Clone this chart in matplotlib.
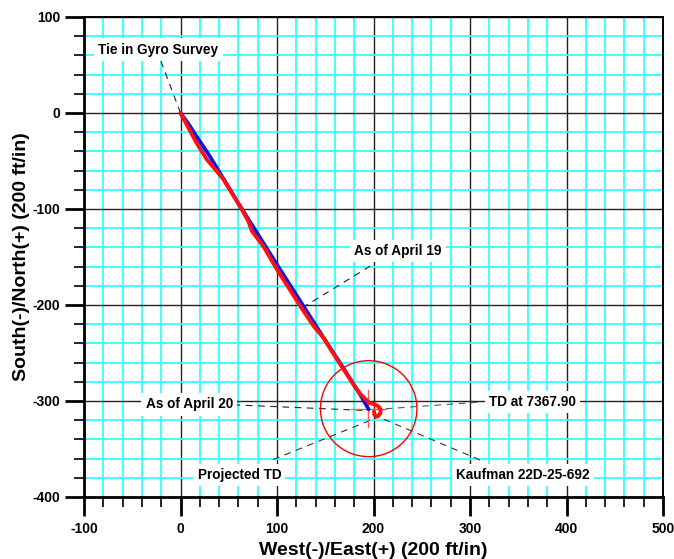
import matplotlib.pyplot as plt
from matplotlib.patches import Circle
from matplotlib.ticker import MultipleLocator

plt.rcParams['font.family'] = ['Liberation Sans', 'DejaVu Sans']
plt.rcParams['font.weight'] = 'bold'
plt.rcParams['axes.unicode_minus'] = False

# survey paths (East, North) in ft
plan_e = [0, 8, 16.8, 30.6, 41, 62, 80, 100, 127.5, 148.3, 169, 186, 195]
plan_n = [0, -11, -24.6, -45.4, -62.7, -97.4, -126, -158, -201.3, -234.2, -266, -293, -308.7]

actual_e = [0, 8, 16.8, 27, 35.8, 44.4, 54.8, 61.8, 70.4, 74, 86, 100, 124, 138, 148, 158, 169,
            180, 186.4, 191.6, 196, 201, 205, 207.5, 207, 204, 201, 200.5]
actual_n = [0, -15, -31.5, -48, -58.5, -69, -86, -97.4, -113, -123, -139, -163, -201, -222, -234,
            -250, -267, -284, -293, -298, -302, -303.5, -305.5, -309, -313, -316, -314.5, -311]

# target circle and projected TD
target_e, target_n, target_r = 195, -308, 50
proj_e, proj_n = 194.5, -308

# annotations: text, text position, leader start, leader end
ann_text = ['Tie in Gyro Survey', 'As of April 19', 'As of April 20', 'TD at 7367.90',
            'Projected TD', 'Kaufman 22D-25-692']
ann_pos = [(-23, 66), (225, -143.5), (9, -303.5), (364.6, -301), (61, -377), (355, -377)]
lead_from = [(0, 0), (126, -203), (55, -304), (200, -309), (96, -361), (199, -314)]
lead_to = [(-21, 56), (199, -158), (195, -310), (312, -301), (207, -316), (314, -363)]
lead_col = ['#222222', '#222222', '#222222', '#555555', '#333333', '#333333']

fig = plt.figure(figsize=(6.74, 5.59), dpi=100)
ax = fig.add_axes([84 / 674, 1 - 497 / 559, 579 / 674, 480 / 559])

ax.set_xlim(-100, 500)
ax.set_ylim(-400, 100)
ax.xaxis.set_major_locator(MultipleLocator(100))
ax.xaxis.set_minor_locator(MultipleLocator(20))
ax.yaxis.set_major_locator(MultipleLocator(100))
ax.yaxis.set_minor_locator(MultipleLocator(20))

ax.grid(which='minor', color='#33ffff', linewidth=1.3, zorder=0)
ax.grid(which='major', color='#222222', linewidth=1.0, zorder=0)
ax.set_axisbelow(True)

for s in ['left', 'bottom']:
    ax.spines[s].set_linewidth(2)
for s in ['top', 'right']:
    ax.spines[s].set_linewidth(1.4)

ax.tick_params(which='major', length=14, width=2, labelsize=10, direction='out', pad=3)
ax.tick_params(which='minor', length=7, width=1.2, direction='out')
ax.tick_params(axis='x', which='major', pad=4)

# leader lines
for p0, p1, c in zip(lead_from, lead_to, lead_col):
    ax.plot([p0[0], p1[0]], [p0[1], p1[1]], color=c, linewidth=0.8,
            linestyle=(0, (6, 5)), zorder=2)

ax.add_patch(Circle((target_e, target_n), target_r, fill=False, edgecolor='red',
                    linewidth=1.0, zorder=3))
ax.plot([proj_e, proj_e], [proj_n - 19, proj_n + 19], color='#ff5a5a', linewidth=1.0, zorder=3)
ax.plot([proj_e - 18, proj_e + 18], [proj_n, proj_n], color='#ff5a5a', linewidth=1.0, zorder=3)

ax.plot(plan_e, plan_n, color='#1010ee', linewidth=2.7, zorder=4, solid_capstyle='round')
ax.plot(actual_e, actual_n, color='#ff1010', linewidth=2.8, zorder=5,
        solid_capstyle='round', solid_joinstyle='round')

for t, (x, y) in zip(ann_text, ann_pos):
    ax.text(x, y, t, ha='center', va='center', fontsize=9.8, fontweight='bold', zorder=6,
            bbox=dict(facecolor='white', edgecolor='none', pad=3))

ax.set_xlabel('West(-)/East(+) (200 ft/in)', fontsize=14, fontweight='bold', labelpad=4)
ax.set_ylabel('South(-)/North(+) (200 ft/in)', fontsize=14, fontweight='bold', labelpad=2)

for lab in ax.get_xticklabels() + ax.get_yticklabels():
    lab.set_fontweight('bold')

fig.savefig('out.png', dpi=100)
